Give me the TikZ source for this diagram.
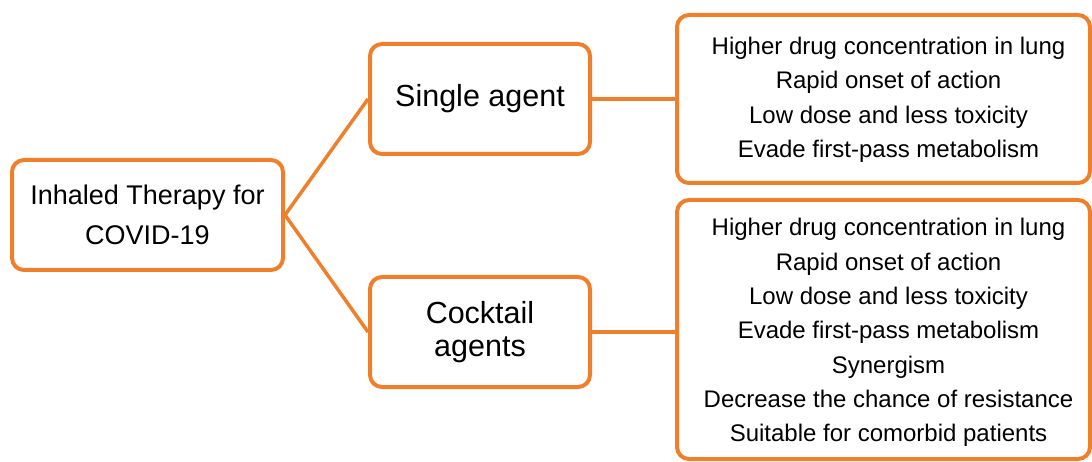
\documentclass[tikz,border=0pt]{standalone}
\usepackage{fontspec}
\setmainfont{Liberation Sans}
\definecolor{boxorange}{HTML}{F07F2C}
\newcommand{\boxlines}[3]{\hspace*{#1}\raisebox{0pt}[\height][\dimexpr\depth-#2\relax]{\begin{tabular}{@{}c@{}}#3\end{tabular}}}
\begin{document}
\begin{tikzpicture}[x=1pt,y=-1pt,
  box/.style={draw=boxorange, line width=4pt, rounded corners=12pt, fill=white,
    align=center, inner sep=0pt, text=black},
  link/.style={draw=boxorange, line width=3.5pt}]
\useasboundingbox (0,0) rectangle (1092,462);
\node[box, minimum width=271pt, minimum height=110pt,
  font=\fontsize{27}{40}\selectfont] (root) at (147.5,215)
  {Inhaled Therapy for\\COVID-19};
\node[box, minimum width=220pt, minimum height=110pt,
  font=\fontsize{30.5}{33}\selectfont] (single) at (480,99)
  {Single agent};
\node[box, minimum width=220pt, minimum height=110pt,
  font=\fontsize{30.5}{33}\selectfont] (cocktail) at (480,332)
  {Cocktail\\agents};
\node[box, minimum width=413pt, minimum height=168pt,
  font=\fontsize{24}{34.3}\selectfont] (b1) at (883.5,99)
  {\boxlines{10pt}{0pt}{Higher drug concentration in lung\\Rapid onset of action\\Low dose and less toxicity\\Evade first-pass metabolism}};
\node[box, minimum width=413pt, minimum height=259pt,
  font=\fontsize{24}{34.3}\selectfont] (b2) at (883.5,329.5)
  {\boxlines{10pt}{5pt}{Higher drug concentration in lung\\Rapid onset of action\\Low dose and less toxicity\\Evade first-pass metabolism\\Synergism\\Decrease the chance of resistance\\Suitable for comorbid patients}};
\draw[link] (root.east) -- (single.west);
\draw[link] (root.east) -- (cocktail.west);
\draw[link] (single.east) -- (b1.west |- single.east);
\draw[link] (cocktail.east) -- (b2.west |- cocktail.east);
\end{tikzpicture}
\end{document}
